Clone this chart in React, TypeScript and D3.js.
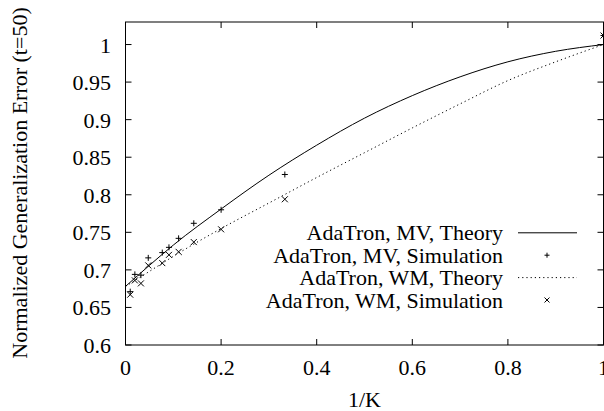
import React from "react";
import * as d3 from "d3";

const xTicks = [0, 0.2, 0.4, 0.6, 0.8, 1];
const xTickLabels = ["0", "0.2", "0.4", "0.6", "0.8", "1"];
const yTicks = [0.6, 0.65, 0.7, 0.75, 0.8, 0.85, 0.9, 0.95, 1];
const yTickLabels = ["0.6", "0.65", "0.7", "0.75", "0.8", "0.85", "0.9", "0.95", "1"];

// simulation points, x = 1/K
const simX = [1 / 101, 1 / 51, 1 / 31, 1 / 21, 1 / 13, 1 / 11, 1 / 9, 1 / 7, 1 / 5, 1 / 3, 1];
const mvSim = [0.671, 0.694, 0.693, 0.716, 0.723, 0.73, 0.742, 0.762, 0.78, 0.827, 1.012];
const wmSim = [0.667, 0.686, 0.682, 0.706, 0.709, 0.72, 0.724, 0.737, 0.754, 0.794, 1.012];

// theory curves
const theoryX = [0, 0.05, 0.1, 0.2, 0.3, 0.4, 0.5, 0.6, 0.7, 0.8, 0.9, 1.0];
const mvTheory = [0.678, 0.706, 0.733, 0.781, 0.826, 0.866, 0.902, 0.932, 0.957, 0.977, 0.991, 1.0];
const wmTheory = [0.678, 0.698, 0.718, 0.755, 0.789, 0.823, 0.856, 0.889, 0.921, 0.952, 0.977, 1.0];

const legendLabels = [
  "AdaTron, MV, Theory",
  "AdaTron, MV, Simulation",
  "AdaTron, WM, Theory",
  "AdaTron, WM, Simulation",
];

const FONT = "Liberation Serif, Times New Roman, serif";
const TS: React.CSSProperties = { fontFamily: FONT, fontSize: "22px" };

export default function App() {
  const W = 604, H = 411;
  const L = 125.5, R = 603.5, T = 22, B = 345;
  const x = d3.scaleLinear().domain([0, 1]).range([L, R]);
  const y = d3.scaleLinear().domain([0.6, 1.03]).range([B, T]);

  const line = d3
    .line<number>()
    .x((_, i) => x(theoryX[i]))
    .y((d) => y(d))
    .curve(d3.curveMonotoneX);

  const plus = (cx: number, cy: number, s = 3, k = "") => (
    <path key={k} d={`M${cx - s},${cy}H${cx + s}M${cx},${cy - s}V${cy + s}`} stroke="#000" strokeWidth={1} fill="none" />
  );
  const cross = (cx: number, cy: number, s = 3, k = "") => (
    <path key={k} d={`M${cx - s},${cy - s}L${cx + s},${cy + s}M${cx - s},${cy + s}L${cx + s},${cy - s}`} stroke="#000" strokeWidth={1} fill="none" />
  );

  const legY0 = 232.8, legDy = 22.4;
  const legTextX = 503, legL = 518, legR = 577, legM = 547;

  return (
    <svg width={W} height={H} style={{ position: "absolute", left: 0, top: 0, background: "#fff" }}>
      <rect x={0} y={0} width={W} height={H} fill="#fff" />
      {/* ticks */}
      {xTicks.map((t, i) => (
        <g key={"xt" + i}>
          <line x1={x(t)} x2={x(t)} y1={B} y2={B - 6} stroke="#000" />
          <line x1={x(t)} x2={x(t)} y1={T} y2={T + 6} stroke="#000" />
          <text x={x(t)} y={375} style={TS} textAnchor="middle">{xTickLabels[i]}</text>
        </g>
      ))}
      {yTicks.map((t, i) => (
        <g key={"yt" + i}>
          <line x1={L} x2={L + 6} y1={y(t)} y2={y(t)} stroke="#000" />
          <line x1={R} x2={R - 6} y1={y(t)} y2={y(t)} stroke="#000" />
          <text x={111} y={y(t) + 8} style={TS} textAnchor="end">{yTickLabels[i]}</text>
        </g>
      ))}
      {/* curves */}
      <path d={line(mvTheory) || ""} fill="none" stroke="#000" strokeWidth={1} />
      <path d={line(wmTheory) || ""} fill="none" stroke="#000" strokeWidth={1} strokeDasharray="1.2,3" />
      {simX.map((v, i) => plus(x(v), y(mvSim[i]), 3, "p" + i))}
      {simX.map((v, i) => cross(x(v), y(wmSim[i]), 3, "c" + i))}
      {/* frame */}
      <rect x={L} y={T} width={R - L} height={B - T} fill="none" stroke="#000" strokeWidth={1} />
      {/* legend */}
      {legendLabels.map((lab, i) => (
        <text key={"lt" + i} x={legTextX} y={legY0 + i * legDy + 7.5} style={TS} textAnchor="end">{lab}</text>
      ))}
      <line x1={legL} x2={legR} y1={legY0} y2={legY0} stroke="#000" />
      {plus(legM, legY0 + legDy, 2.5, "lp")}
      <line x1={legL} x2={legR} y1={legY0 + 2 * legDy} y2={legY0 + 2 * legDy} stroke="#000" strokeDasharray="1.2,3" />
      {cross(legM, legY0 + 3 * legDy, 2.5, "lc")}
      {/* axis titles */}
      <text x={(L + R) / 2} y={407} style={TS} textAnchor="middle">1/K</text>
      <text transform={`translate(27,183) rotate(-90)`} style={TS} textAnchor="middle">Normalized Generalization Error (t=50)</text>
    </svg>
  );
}
